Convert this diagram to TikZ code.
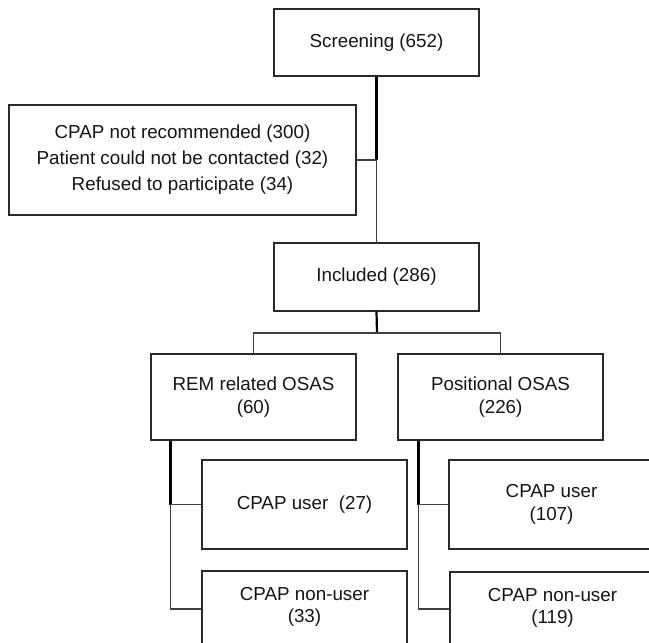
\documentclass[tikz,border=0pt]{standalone}
\usepackage{fontspec}
\setmainfont{Liberation Sans}
\definecolor{boxc}{HTML}{2A2A2A}
\definecolor{linec}{HTML}{404040}
\definecolor{txt}{HTML}{151515}
\begin{document}
\begin{tikzpicture}[x=1pt,y=-1pt,
  box/.style={draw=boxc, line width=1.2pt, fill=white, minimum width=205pt,
    align=center, inner sep=0pt, text=txt,
    font=\fontsize{18.8}{22.5}\selectfont},
  stem/.style={line width=2.2pt, black},
  twig/.style={line width=1.4pt, linec}]
\useasboundingbox (0,0) rectangle (649,643);
\clip (0,0) rectangle (649,643);

\node[box, minimum height=67pt] (scr) at (376.5,42.5) {Screening (652)};
\node[box, minimum width=347pt, minimum height=110pt,
  font=\fontsize{18.8}{26}\selectfont] (excl) at (182.5,160)
  {CPAP not recommended (300)\\Patient could not be contacted (32)\\Refused to participate (34)};
\node[box, minimum height=68pt] (inc) at (376.5,277) {Included (286)};
\node[box, minimum height=86pt] (rem) at (253.5,397) {REM related OSAS\\(60)};
\node[box, minimum height=86pt] (pos) at (500.5,397) {Positional OSAS\\(226)};
\node[box, minimum height=89pt] (u27) at (304.5,504.5)
  {\raisebox{-3.5pt}{CPAP user\ \ (27)}};
\node[box, minimum height=89pt] (u107) at (551.5,504.5) {CPAP user\\(107)};
\node[box, minimum height=89pt,
  label={[yshift=9pt, align=center, text=txt, font=\fontsize{18.8}{22}\selectfont]center:CPAP non-user\\(33)}]
  (n33) at (304.5,615.5) {};
\node[box, minimum height=89pt,
  label={[yshift=9pt, align=center, text=txt, font=\fontsize{18.8}{22}\selectfont]center:CPAP non-user\\(119)}]
  (n119) at (552.5,616.5) {};

% screening -> exclusions / included
\coordinate (j1) at (scr.south |- excl.east);
\draw[stem] (scr.south) -- (j1);
\draw[twig] (excl.east) -- (j1);
\draw[twig] (j1) -- (inc.north);

% included -> two groups
\coordinate (j2) at (377,333);
\draw[stem] (inc.south) -- (j2);
\draw[twig] (rem.north) |- (j2);
\draw[twig] (pos.north) |- (j2);

% REM -> users / non-users
\coordinate (r0) at ([xshift=20pt]rem.south west);
\coordinate (n33l) at ([yshift=6.5pt]n33.west);
\coordinate (r1) at (r0 |- u27.west);
\coordinate (r2) at (r0 |- n33l);
\draw[stem] (r0) -- (r1);
\draw[twig] (r1) -- (r2);
\draw[twig] (r1) -- (u27.west);
\draw[twig] (r2) -- (n33l);

% Positional -> users / non-users
\coordinate (p0) at ([xshift=21pt]pos.south west);
\coordinate (n119l) at ([yshift=7.5pt]n119.west);
\coordinate (p1) at (p0 |- u107.west);
\coordinate (p2) at (p0 |- n119l);
\draw[stem] (p0) -- (p1);
\draw[twig] (p1) -- (p2);
\draw[twig] (p1) -- (u107.west);
\draw[twig] (p2) -- (n119l);
\end{tikzpicture}
\end{document}
